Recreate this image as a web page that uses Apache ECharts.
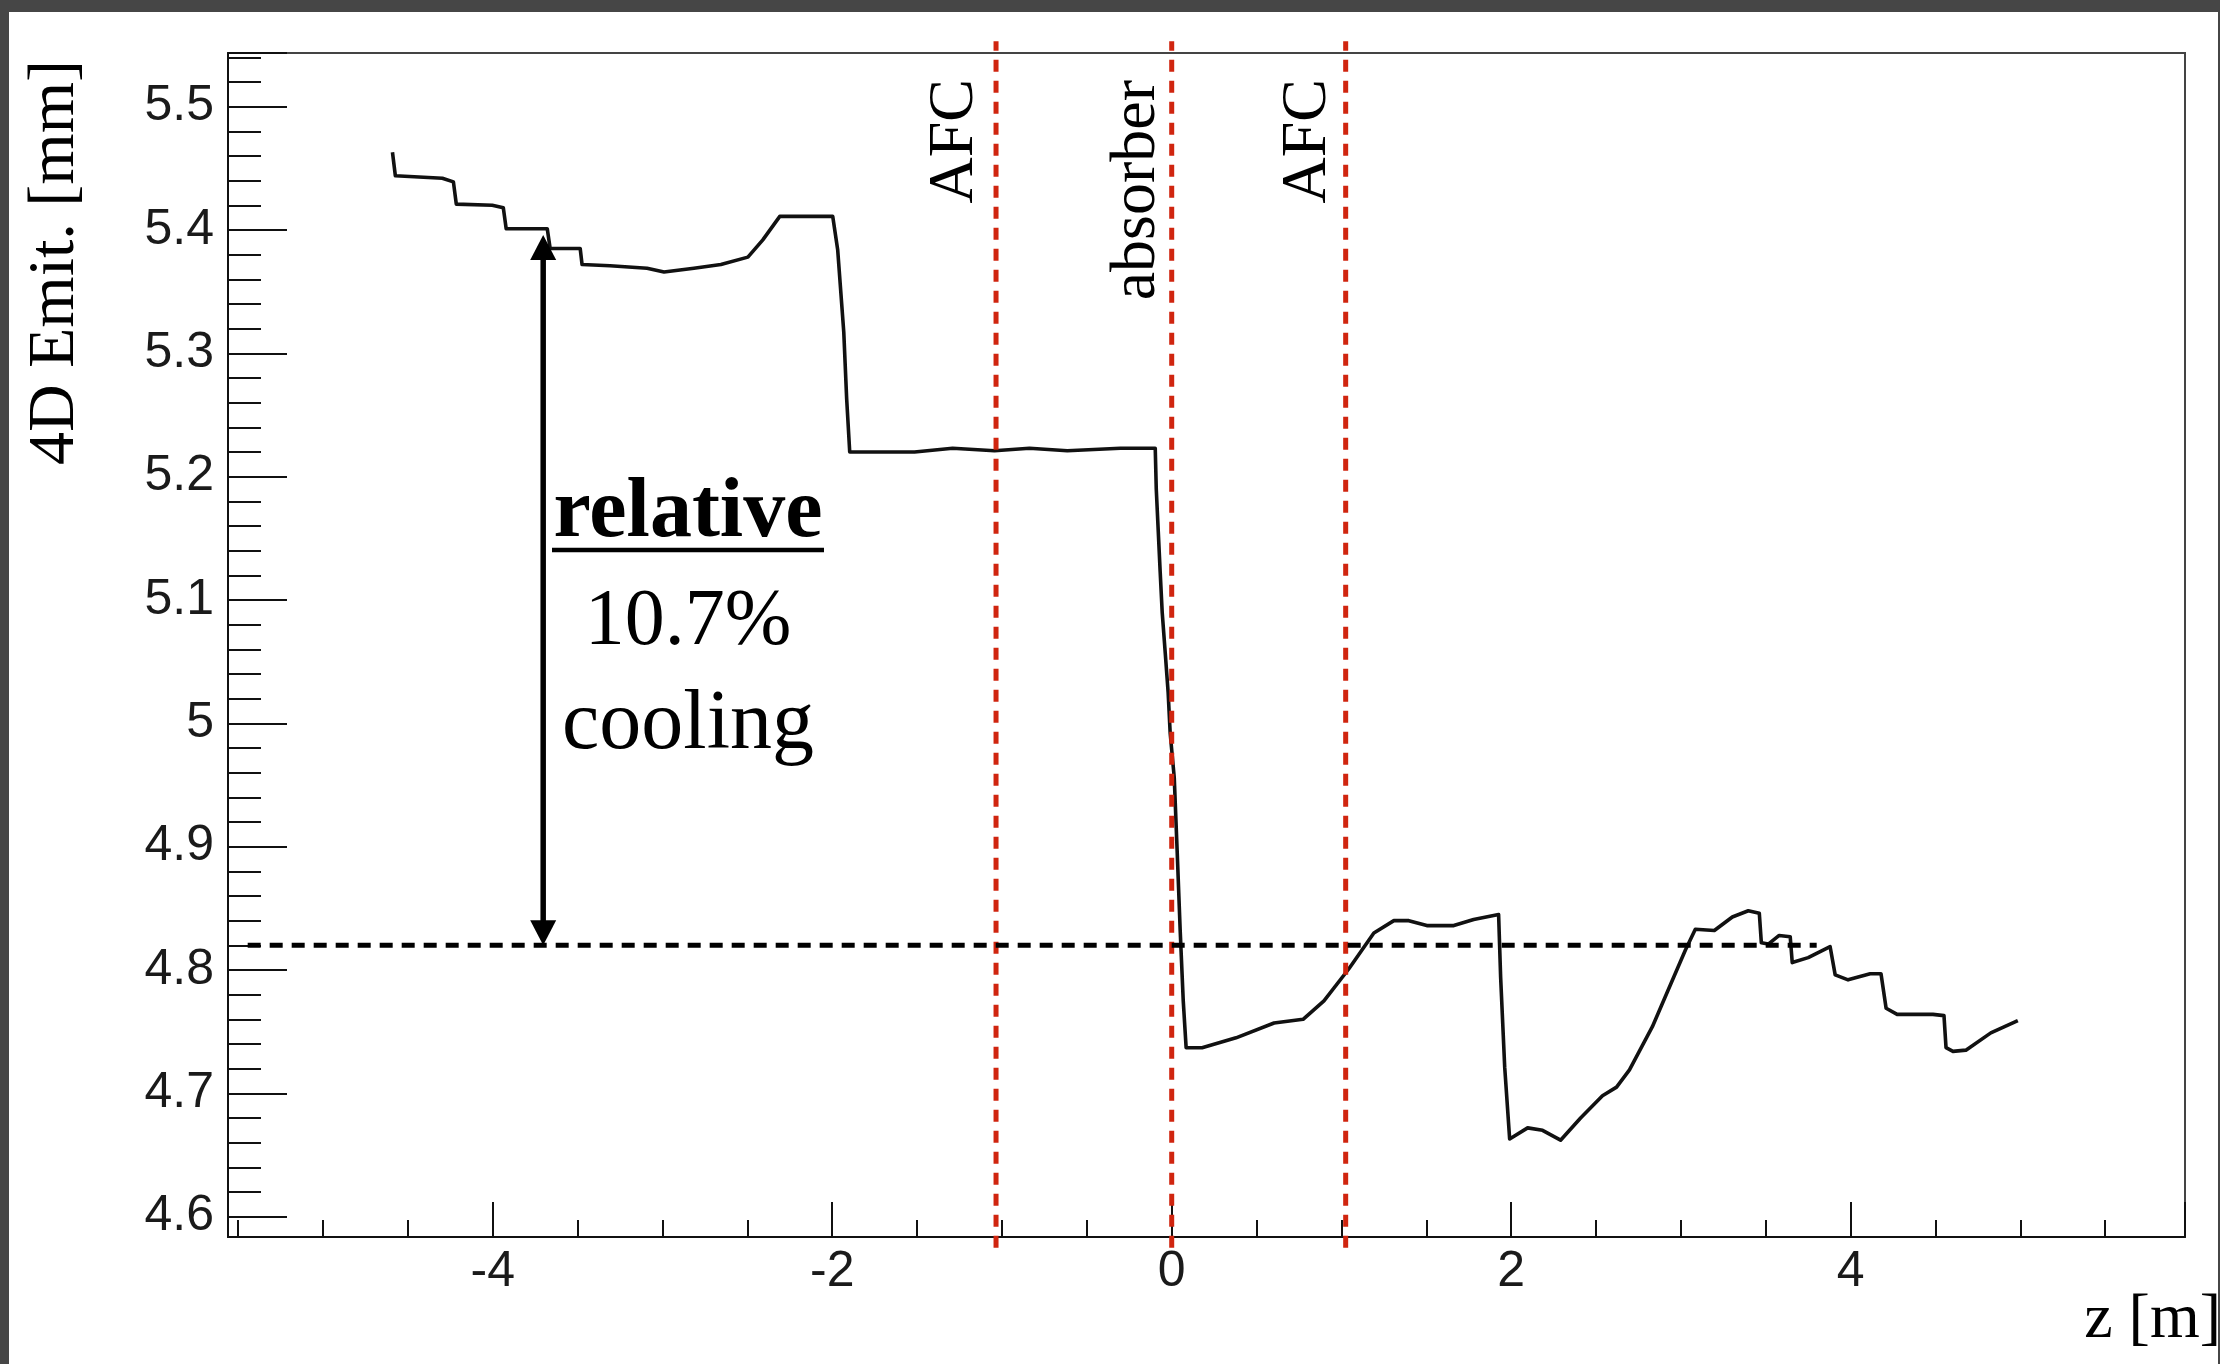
<!DOCTYPE html>
<html>
<head>
<meta charset="utf-8">
<title>4D emittance along z</title>
<script src="https://cdn.jsdelivr.net/npm/echarts@6/dist/echarts.min.js"></script>
<style>
  html, body { margin: 0; padding: 0; width: 2220px; height: 1364px; overflow: hidden; background: #464646; }
  #chart { position: absolute; left: 9px; top: 12px; width: 2209px; height: 1352px; background: #ffffff; }
</style>
</head>
<body>
<div id="chart"></div>
<script>
// Position along the beam line [m]
const zPos = [
  -4.591, -4.574, -4.297, -4.232, -4.215, -4.003, -3.938, -3.921, -3.679, -3.662,
  -3.485, -3.474, -3.309, -3.091, -2.991, -2.815, -2.656, -2.497, -2.409, -2.309,
  -1.997, -1.968, -1.932, -1.915, -1.897, -1.515, -1.291, -1.044, -0.838, -0.615,
  -0.303, -0.097, -0.091, -0.079, -0.068, -0.056, -0.038, -0.021, -0.009, 0.015,
  0.032, 0.050, 0.068, 0.085, 0.179, 0.379, 0.603, 0.774, 0.897, 1.044,
  1.191, 1.309, 1.397, 1.503, 1.662, 1.779, 1.926, 1.938, 1.962, 1.991,
  2.097, 2.185, 2.291, 2.409, 2.538, 2.621, 2.697, 2.832, 2.932, 3.026,
  3.085, 3.197, 3.303, 3.397, 3.462, 3.474, 3.515, 3.579, 3.644, 3.656,
  3.750, 3.879, 3.909, 3.985, 4.115, 4.179, 4.209, 4.274, 4.485, 4.550,
  4.562, 4.603, 4.679, 4.826, 4.985
];

// 4D transverse emittance [mm]
const emittance = [
  5.463, 5.444, 5.442, 5.439, 5.421, 5.420, 5.418, 5.401, 5.401, 5.385,
  5.385, 5.372, 5.371, 5.369, 5.366, 5.369, 5.372, 5.378, 5.392, 5.411,
  5.411, 5.384, 5.317, 5.263, 5.220, 5.220, 5.223, 5.221, 5.223, 5.221,
  5.223, 5.223, 5.190, 5.155, 5.123, 5.090, 5.057, 5.025, 4.992, 4.956,
  4.897, 4.832, 4.775, 4.737, 4.737, 4.745, 4.757, 4.760, 4.775, 4.801,
  4.830, 4.840, 4.840, 4.836, 4.836, 4.841, 4.845, 4.794, 4.721, 4.663,
  4.672, 4.670, 4.662, 4.680, 4.698, 4.705, 4.719, 4.754, 4.786, 4.816,
  4.833, 4.832, 4.843, 4.848, 4.846, 4.822, 4.821, 4.828, 4.827, 4.806,
  4.810, 4.819, 4.796, 4.792, 4.797, 4.797, 4.769, 4.764, 4.764, 4.763,
  4.737, 4.734, 4.735, 4.749, 4.759
];

// Element positions along z [m] and their labels
const elementZ = [-1.035, 0.0, 1.025];
const elementNames = ['AFC', 'absorber', 'AFC'];
const elementSpan = [4.5748, 5.5530];       // vertical extent of the element markers

// Cooling annotation
const downstreamLevel = 4.82;               // dashed reference level
const upstreamLevel = 5.396;                // level the arrow points to
const arrowZ = -3.703;
const levelLineZ = [-5.444, 3.80];
const noteLines = ['relative', '10.7%', 'cooling'];

// Axis ranges
const zRange = [-5.56, 5.97];
const emitRange = [4.5835, 5.5435];

const serif = '"Liberation Serif", "DejaVu Serif", serif';
const sans = '"Liberation Sans", Arial, sans-serif';

const chart = echarts.init(document.getElementById('chart'), null, { renderer: 'canvas' });

const curve = zPos.map((z, i) => [z, emittance[i]]);

const elementSeries = elementZ.map((z, i) => ({
  name: elementNames[i],
  type: 'line',
  data: [[z, elementSpan[0]], [z, elementSpan[1]]],
  showSymbol: false,
  clip: false,
  silent: true,
  z: 4,
  lineStyle: { color: '#d0250f', width: 5, type: [12, 9] }
}));

function isMultiple(v, step) {
  const r = v / step;
  return Math.abs(r - Math.round(r)) < 1e-6;
}

const option = {
  animation: false,
  backgroundColor: '#ffffff',
  grid: {
    left: 219, right: 33, top: 41, bottom: 127,
    show: true, borderColor: '#444', borderWidth: 2, backgroundColor: 'transparent'
  },
  xAxis: {
    type: 'value',
    min: zRange[0], max: zRange[1],
    splitNumber: 6,
    axisLine: { show: true, onZero: false, lineStyle: { color: '#111', width: 2 } },
    axisTick: { show: true, inside: true, length: 35, lineStyle: { color: '#111', width: 2 } },
    minorTick: { show: true, splitNumber: 4, length: 17, lineStyle: { color: '#111', width: 2 } },
    splitLine: { show: false },
    axisLabel: {
      margin: 10, color: '#1a1a1a', fontFamily: sans, fontSize: 50,
      formatter: v => isMultiple(v, 2) ? String(Math.round(v)) : ''
    }
  },
  yAxis: {
    type: 'value',
    min: emitRange[0], max: emitRange[1],
    splitNumber: 10,
    axisLine: { show: true, onZero: false, lineStyle: { color: '#111', width: 2 } },
    axisTick: { show: true, inside: true, length: 59, lineStyle: { color: '#111', width: 2 } },
    minorTick: { show: true, splitNumber: 5, length: 33, lineStyle: { color: '#111', width: 2 } },
    splitLine: { show: false },
    axisLabel: {
      margin: 14, color: '#1a1a1a', fontFamily: sans, fontSize: 50,
      formatter: v => isMultiple(v, 0.1) ? String(Math.round(v * 10) / 10) : ''
    }
  },
  series: [
    {
      name: '4D Emit.',
      type: 'line',
      data: curve,
      showSymbol: false,
      silent: true,
      z: 3,
      lineStyle: { color: '#111', width: 3.6, join: 'round' }
    },
    ...elementSeries,
    {
      name: 'downstream level',
      type: 'line',
      data: [[levelLineZ[0], downstreamLevel], [levelLineZ[1], downstreamLevel]],
      showSymbol: false,
      clip: false,
      silent: true,
      z: 5,
      lineStyle: { color: '#000', width: 5, type: [13, 9] }
    },
    {
      name: 'cooling arrow',
      type: 'custom',
      data: [[arrowZ, downstreamLevel, upstreamLevel]],
      encode: { x: 0, y: [1, 2] },
      clip: false,
      silent: true,
      z: 6,
      renderItem: function (params, api) {
        const top = api.coord([api.value(0), api.value(2)]);
        const bot = api.coord([api.value(0), api.value(1)]);
        const hw = 13, hl = 25;
        return {
          type: 'group',
          children: [
            { type: 'line', shape: { x1: top[0], y1: top[1] + hl - 2, x2: bot[0], y2: bot[1] - hl + 2 },
              style: { stroke: '#000', lineWidth: 5.5 } },
            { type: 'polygon', shape: { points: [[top[0], top[1]], [top[0] - hw, top[1] + hl], [top[0] + hw, top[1] + hl]] },
              style: { fill: '#000' } },
            { type: 'polygon', shape: { points: [[bot[0], bot[1]], [bot[0] - hw, bot[1] - hl], [bot[0] + hw, bot[1] - hl]] },
              style: { fill: '#000' } }
          ]
        };
      }
    }
  ]
};

chart.setOption(option);

// Text annotations placed relative to the axes
const labelFont = '64px ' + serif;
const graphics = [
  {
    type: 'text', x: 46.7, y: 48, rotation: Math.PI / 2,
    style: { text: '4D Emit. [mm]', font: '66px ' + serif, fill: '#000', align: 'right', verticalAlign: 'middle' }
  },
  {
    type: 'text', x: 2212, y: 1308,
    style: { text: 'z [m]', font: labelFont, fill: '#000', align: 'right', verticalAlign: 'middle' }
  }
];

const labelOffsets = [40.5, 34.6, 37.5];
const labelTops = [67, 68, 67];
elementZ.forEach((z, i) => {
  const px = chart.convertToPixel({ gridIndex: 0 }, [z, 5])[0];
  graphics.push({
    type: 'text', x: px - labelOffsets[i], y: labelTops[i], rotation: Math.PI / 2,
    style: { text: elementNames[i], font: labelFont, fill: '#000', align: 'right', verticalAlign: 'middle' }
  });
});

const noteX = 679;
graphics.push(
  { type: 'text', x: noteX, y: 502,
    style: { text: noteLines[0], font: 'bold 84px ' + serif, fill: '#000', align: 'center', verticalAlign: 'middle' } },
  { type: 'line', shape: { x1: noteX - 136, y1: 538, x2: noteX + 136, y2: 538 },
    style: { stroke: '#000', lineWidth: 4.5 } },
  { type: 'text', x: noteX, y: 611,
    style: { text: noteLines[1], font: '80px ' + serif, fill: '#000', align: 'center', verticalAlign: 'middle' } },
  { type: 'text', x: noteX, y: 714,
    style: { text: noteLines[2], font: '84px ' + serif, fill: '#000', align: 'center', verticalAlign: 'middle' } }
);

chart.setOption({ graphic: graphics });
</script>
</body>
</html>
